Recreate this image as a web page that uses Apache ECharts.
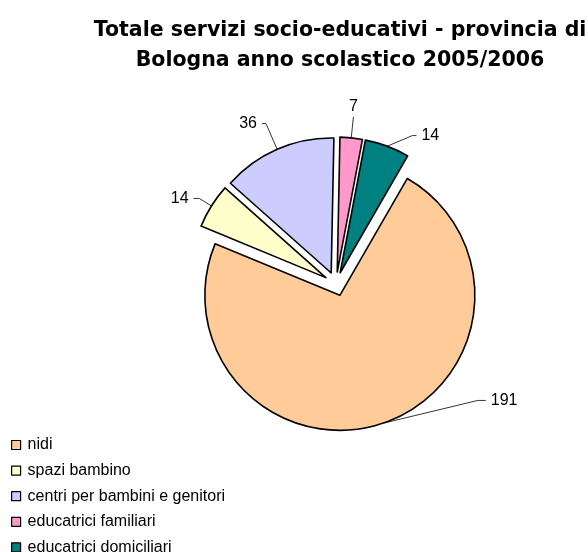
<!DOCTYPE html>
<html>
<head>
<meta charset="utf-8">
<script src="https://cdn.jsdelivr.net/npm/echarts@6/dist/echarts.min.js"></script>
<style>html,body{margin:0;padding:0;background:#fff}#c{width:588px;height:552px}</style>
</head>
<body>
<div id="c"></div>
<script>
const categories = ['nidi', 'spazi bambino', 'centri per bambini e genitori', 'educatrici familiari', 'educatrici domiciliari'];
const values = [191, 14, 36, 7, 14];
const colors = ['#FFCC99', '#FFFFCC', '#CCCCFF', '#FF99CC', '#008080'];
// label leader lengths per slice (layout only)
const leadLen = [14, 14, 28, 21, 25];
const leadLen2 = [8, 6, 4, 0, 4];

const chart = echarts.init(document.getElementById('c'), null, {renderer: 'canvas'});
chart.setOption({
  animation: false,
  backgroundColor: '#fff',
  title: {
    text: 'Totale servizi socio-educativi - provincia di\nBologna anno scolastico 2005/2006',
    left: 335, top: 11, textAlign: 'center',
    textStyle: {fontFamily: 'DejaVu Sans', fontWeight: 'bold', fontSize: 20.5, lineHeight: 30, color: '#000'}
  },
  legend: {
    orient: 'vertical', left: 11, top: 437, height: 200, padding: 0,
    itemWidth: 9, itemHeight: 9, itemGap: 9.6,
    icon: 'rect',
    textStyle: {fontFamily: 'Liberation Sans', fontSize: 16, lineHeight: 16, color: '#000', padding: [0,0,0,2]},
    selectedMode: false,
    itemStyle: {borderColor: '#000', borderWidth: 1.2},
    data: categories
  },
  series: [{
    type: 'pie',
    center: [336, 284],
    radius: 135,
    startAngle: 60,
    clockwise: true,
    selectedMode: 'multiple',
    selectedOffset: 12,
    emphasis: {disabled: true},
    itemStyle: {borderColor: '#000', borderWidth: 1.6},
    label: {show: true, position: 'outside', formatter: '{c}', fontFamily: 'Liberation Sans', fontSize: 16, color: '#000'},
    labelLine: {show: true, lineStyle: {color: '#000', width: 0.8}},
    labelLayout: function (p) {
      const r = p.labelRect, pts = p.labelLinePoints;
      if (p.dataIndex === 0 && pts) {
        const dx = 90, dy = -36;
        const nx = r.x + dx, cy = r.y + dy + r.height / 2;
        return {dx: dx, dy: dy, labelLinePoints: [pts[0], [nx - 13, cy], [nx - 5, cy]]};
      }
      if (p.dataIndex === 3 && pts) {
        const end = pts[pts.length - 1];
        const dx = end[0] - (r.x + r.width / 2);
        const dy = end[1] - (r.y + r.height) - 2;
        return {dx: dx, dy: dy};
      }
      return {};
    },
    data: categories.map((n, i) => ({
      name: n, value: values[i], selected: true,
      itemStyle: {color: colors[i]},
      labelLine: {length: leadLen[i], length2: leadLen2[i]}
    }))
  }]
});
</script>
</body>
</html>
